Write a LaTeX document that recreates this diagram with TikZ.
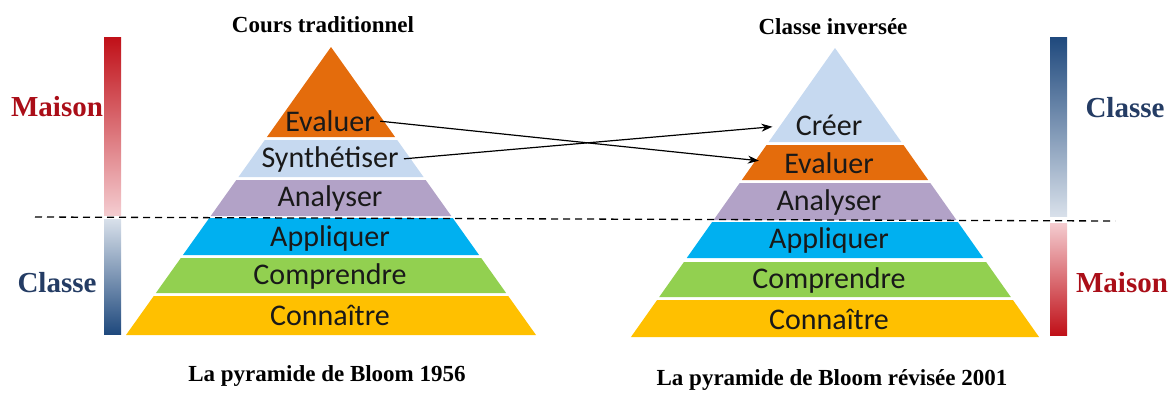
\documentclass[tikz,border=0pt]{standalone}
\usepackage{fontspec}
\setmainfont{Liberation Serif}
\newfontfamily\calib{Carlito}
\usetikzlibrary{arrows.meta}
\definecolor{orangeB}{RGB}{228,108,12}
\definecolor{paleB}{RGB}{198,217,240}
\definecolor{lilacB}{RGB}{178,162,199}
\definecolor{cyanB}{RGB}{0,176,240}
\definecolor{greenB}{RGB}{146,208,80}
\definecolor{yellowB}{RGB}{255,192,0}
\definecolor{maisonR}{RGB}{170,14,24}
\definecolor{classeB}{RGB}{36,60,100}
\definecolor{barR}{RGB}{192,16,24}
\definecolor{barRl}{RGB}{244,204,208}
\definecolor{barB}{RGB}{31,73,125}
\definecolor{barBl}{RGB}{216,224,234}
\begin{document}
\begin{tikzpicture}[x=1pt,y=-1pt,>={Stealth[length=11pt,width=8pt]},
    lvl/.style={font=\calib\fontsize{30}{30}\selectfont,text=black!90},
    ttl/.style={font=\bfseries\fontsize{23}{23}\selectfont},
    side/.style={font=\bfseries\fontsize{29}{29}\selectfont}]
\useasboundingbox (0,0) rectangle (1169,392);
% left pyramid
\foreach \ya/\yb/\c in {47/137/orangeB,140/177/paleB,180/216/lilacB,218/255/cyanB,258/293/greenB,296/335/yellowB}
  \fill[\c] ({331-0.7118*(\ya-47)},\ya) -- ({331+0.7118*(\ya-47)},\ya)
    -- ({331+0.7118*(\yb-47)},\yb) -- ({331-0.7118*(\yb-47)},\yb) -- cycle;
% right pyramid
\foreach \ya/\yb/\c in {48/142/paleB,145/180/orangeB,183/220/lilacB,222/258/cyanB,262/297/greenB,300/337/yellowB}
  \fill[\c] ({835-0.706*(\ya-48)},\ya) -- ({835+0.706*(\ya-48)},\ya)
    -- ({835+0.706*(\yb-48)},\yb) -- ({835-0.706*(\yb-48)},\yb) -- cycle;
\node[lvl] (lEva) at (330,121) {Evaluer};
\node[lvl] (lSyn) at (330,159) {Synthétiser};
\node[lvl] (lAna) at (330,198) {Analyser};
\node[lvl] (lApp) at (330,238) {Appliquer};
\node[lvl] (lCom) at (330,276) {Comprendre};
\node[lvl] (lCon) at (330,315) {Connaître};
\node[lvl] (rCre) at (829,125) {Créer};
\node[lvl] (rEva) at (829,163) {Evaluer};
\node[lvl] (rAna) at (829,202) {Analyser};
\node[lvl] (rApp) at (829,240) {Appliquer};
\node[lvl] (rCom) at (829,280) {Comprendre};
\node[lvl] (rCon) at (829,319) {Connaître};
% titles
\node[ttl] (tLeft) at (323,25) {Cours traditionnel};
\node[ttl] (tRight) at (833,27) {Classe inversée};
\node[ttl] (bLeft) at (327,376) {La pyramide de Bloom 1956};
\node[ttl] (bRight) at (832,380) {La pyramide de Bloom révisée 2001};
% bars
\shade[top color=barR,bottom color=barRl] (104,37) rectangle (121,215);
\shade[top color=barBl,bottom color=barB] (104,219) rectangle (121,334);
\shade[top color=barB,bottom color=barBl] (1050,37) rectangle (1067,216);
\shade[top color=barRl,bottom color=barR] (1050,223) rectangle (1067,335);
\node[side,text=maisonR] (mLeft) at (57,107) {Maison};
\node[side,text=classeB] (cLeft) at (57,283) {Classe};
\node[side,text=classeB] (cRight) at (1125,108) {Classe};
\node[side,text=maisonR] (mRight) at (1122,283) {Maison};
\draw[dashed,line width=1.3pt,dash pattern=on 7pt off 5pt] (35,217) -- (1115,221);
% arrows
\draw[->,line width=1.2pt,shorten <=2pt,shorten >=22pt] (lEva.east) -- (rEva.west);
\draw[->,line width=1.2pt,shorten <=2pt,shorten >=20pt] (lSyn.east) -- (rCre.west);
\end{tikzpicture}
\end{document}
